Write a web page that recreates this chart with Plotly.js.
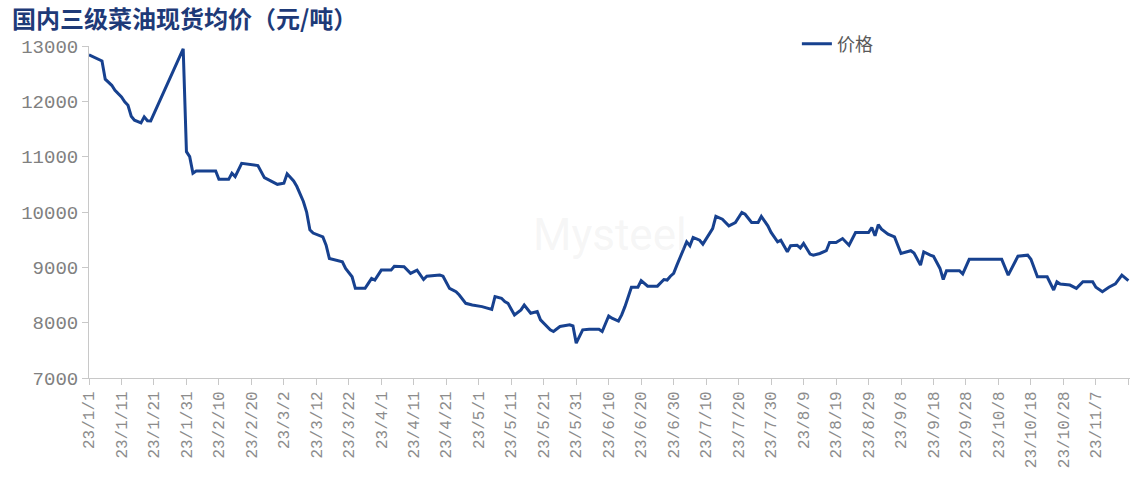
<!DOCTYPE html>
<html>
<head>
<meta charset="utf-8">
<script src="https://cdn.plot.ly/plotly-3.0.1.min.js"></script>
<style>html,body{margin:0;padding:0;background:#fff;}#chart{width:1136px;height:480px;}</style>
</head>
<body>
<div id="chart"></div>
<script>
const chartTitle = '国内三级菜油现货均价（元/吨）';
const seriesName = '价格';
const dates = [
'2023-01-01','2023-01-04','2023-01-05','2023-01-06','2023-01-08','2023-01-09','2023-01-11','2023-01-12','2023-01-13','2023-01-14',
'2023-01-15','2023-01-17','2023-01-18','2023-01-19','2023-01-20','2023-01-30','2023-01-31','2023-02-01','2023-02-02','2023-02-03',
'2023-02-09','2023-02-10','2023-02-13','2023-02-14','2023-02-15','2023-02-17','2023-02-20','2023-02-22','2023-02-24','2023-02-25',
'2023-02-28','2023-03-02','2023-03-03','2023-03-05','2023-03-06','2023-03-08','2023-03-09','2023-03-10','2023-03-11','2023-03-14',
'2023-03-15','2023-03-16','2023-03-20','2023-03-21','2023-03-23','2023-03-24','2023-03-27','2023-03-28','2023-03-29','2023-03-30',
'2023-04-01','2023-04-04','2023-04-05','2023-04-08','2023-04-10','2023-04-12','2023-04-14','2023-04-15','2023-04-19','2023-04-20',
'2023-04-22','2023-04-24','2023-04-25','2023-04-27','2023-04-29','2023-05-02','2023-05-05','2023-05-06','2023-05-08','2023-05-09',
'2023-05-10','2023-05-12','2023-05-14','2023-05-15','2023-05-17','2023-05-19','2023-05-20','2023-05-23','2023-05-24','2023-05-26',
'2023-05-29','2023-05-30','2023-05-31','2023-06-02','2023-06-04','2023-06-07','2023-06-08','2023-06-10','2023-06-11','2023-06-13',
'2023-06-14','2023-06-15','2023-06-17','2023-06-19','2023-06-20','2023-06-22','2023-06-25','2023-06-27','2023-06-28','2023-06-29',
'2023-06-30','2023-07-01','2023-07-04','2023-07-05','2023-07-06','2023-07-08','2023-07-09','2023-07-12','2023-07-13','2023-07-15',
'2023-07-17','2023-07-19','2023-07-21','2023-07-22','2023-07-24','2023-07-26','2023-07-27','2023-07-29','2023-07-30','2023-08-01',
'2023-08-02','2023-08-04','2023-08-05','2023-08-07','2023-08-08','2023-08-09','2023-08-11','2023-08-12','2023-08-14','2023-08-16',
'2023-08-17','2023-08-19','2023-08-20','2023-08-21','2023-08-23','2023-08-25','2023-08-29','2023-08-30','2023-08-31','2023-09-01',
'2023-09-02','2023-09-04','2023-09-06','2023-09-08','2023-09-11','2023-09-12','2023-09-14','2023-09-15','2023-09-17','2023-09-18',
'2023-09-20','2023-09-21','2023-09-22','2023-09-26','2023-09-27','2023-09-29','2023-10-09','2023-10-11','2023-10-14','2023-10-17',
'2023-10-18','2023-10-20','2023-10-23','2023-10-25','2023-10-26','2023-10-27','2023-10-30','2023-11-01','2023-11-03','2023-11-06',
'2023-11-07','2023-11-09','2023-11-11','2023-11-13','2023-11-15','2023-11-17'
];
const prices = [
12840,12760,12730,12400,12290,12200,12080,11990,11930,11730,
11660,11610,11720,11650,11645,12950,11090,11000,10700,10740,
10740,10590,10590,10700,10640,10880,10850,10840,10620,10590,
10500,10520,10690,10560,10460,10190,10000,9680,9620,9550,
9400,9160,9100,8980,8830,8620,8620,8710,8800,8770,
8950,8950,9020,9010,8890,8950,8780,8840,8860,8840,
8620,8560,8500,8350,8320,8290,8240,8470,8440,8380,
8350,8140,8230,8320,8170,8200,8050,7870,7840,7930,
7960,7940,7630,7870,7880,7880,7840,8120,8080,8030,
8140,8290,8640,8640,8760,8660,8660,8780,8770,8840,
8890,9040,9460,9390,9540,9490,9420,9700,9920,9870,
9750,9810,9990,9960,9810,9810,9920,9750,9630,9460,
9490,9280,9390,9400,9350,9430,9240,9220,9250,9300,
9450,9450,9490,9520,9400,9630,9630,9720,9570,9770,
9690,9600,9550,9250,9300,9260,9040,9280,9220,9200,
8980,8780,8940,8940,8880,9145,9145,8860,9200,9220,
9145,8830,8830,8590,8740,8700,8680,8620,8740,8740,
8640,8560,8640,8700,8860,8760
];
const yTicks = [7000,8000,9000,10000,11000,12000,13000];
const xRange = ['2023-01-01','2023-11-17 12:00'];

const trace = {
  x: dates, y: prices, type: 'scatter', mode: 'lines', name: seriesName,
  line: {color: '#17418f', width: 3},
  showlegend: true
};
const axisGray = '#c8c8c8';
const layout = {
  width: 1136, height: 480,
  margin: {l: 89, r: 6, t: 46, b: 102},
  paper_bgcolor: '#ffffff', plot_bgcolor: '#ffffff',
  title: {
    text: '<b>' + chartTitle + '</b>',
    xref: 'container', yref: 'container',
    x: 12/1136, xanchor: 'left', y: 1 - 11/480, yanchor: 'top',
    font: {family: '"Noto Sans CJK SC", sans-serif', size: 24, color: '#1e3a78'}
  },
  xaxis: {
    type: 'date', range: xRange,
    tickmode: 'linear', tick0: '2023-01-01', dtick: 10*86400000,
    tickformat: '%y/%-m/%-d', tickangle: -90,
    ticks: 'outside', ticklen: 6, tickcolor: axisGray, tickwidth: 1,
    showline: true, linecolor: axisGray, linewidth: 1,
    showgrid: false, zeroline: false,
    tickfont: {family: '"Liberation Mono", monospace', size: 16, color: '#8c8c8c'}
  },
  yaxis: {
    range: [7000, 13000], tickvals: yTicks, tickformat: 'd',
    ticks: 'outside', ticklen: 6, tickcolor: axisGray, tickwidth: 1,
    showline: true, linecolor: axisGray, linewidth: 1,
    showgrid: false, zeroline: false,
    tickfont: {family: '"Liberation Mono", monospace', size: 19, color: '#808080'}
  },
  legend: {
    x: 0.68, xanchor: 'left', y: 1.006, yanchor: 'middle',
    bgcolor: 'rgba(0,0,0,0)',
    font: {family: '"Noto Sans CJK SC", sans-serif', size: 18, color: '#595959'}
  },
  annotations: [{
    text: 'Mysteel', xref: 'paper', yref: 'paper', x: 0.5, y: 0.43,
    showarrow: false, font: {family: 'Roboto, sans-serif', size: 44, color: 'rgba(200,200,200,0.18)'}
  }]
};
Plotly.newPlot('chart', [trace], layout, {displayModeBar: false, staticPlot: true});
</script>
</body>
</html>
